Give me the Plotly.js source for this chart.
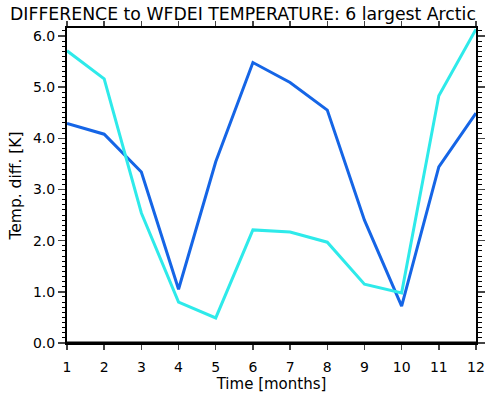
<!DOCTYPE html>
<html><head><meta charset="utf-8">
<script src="https://cdn.plot.ly/plotly-3.0.1.min.js"></script>
<style>html,body{margin:0;padding:0;background:#fff}#c{width:486px;height:399px}</style>
</head><body><div id="c"></div>
<script>
const months = [1,2,3,4,5,6,7,8,9,10,11,12];
const seriesBlue = [4.29,4.08,3.34,1.05,3.54,5.48,5.09,4.55,2.40,0.72,3.44,4.49];
const seriesCyan = [5.71,5.16,2.54,0.80,0.49,2.21,2.17,1.97,1.15,0.98,4.83,6.13];
const yTicks = [0,1,2,3,4,5,6];

const font = "DejaVu Sans, Verdana, sans-serif";
const traces = [
  {x: months, y: seriesBlue, type:'scatter', mode:'lines', line:{color:'#1565e6', width:3}},
  {x: months, y: seriesCyan, type:'scatter', mode:'lines', line:{color:'#2eeaea', width:3}}
];
const layout = {
  width:486, height:399,
  margin:{l:67, r:10, t:28, b:56},
  paper_bgcolor:'#fff', plot_bgcolor:'#fff',
  showlegend:false,
  title:{text:'DIFFERENCE to WFDEI TEMPERATURE: 6 largest Arctic', x:0.5, xanchor:'center', y:0.966, yanchor:'middle',
         font:{family:font, size:17.3, color:'#000'}},
  xaxis:{range:[1,12], tickvals:months, ticktext:months.map(String), ticks:'outside', ticklen:5, tickwidth:1.5,
         ticklabelstandoff:5,
         showline:true, linecolor:'#000', linewidth:2, mirror:'ticks', showgrid:false, zeroline:false,
         tickfont:{family:font, size:14, color:'#000'},
         title:{text:'Time [months]', font:{family:font, size:15, color:'#000'}, standoff:0}},
  yaxis:{range:[0,6.155], tickvals:yTicks, tickformat:'.1f', ticks:'outside', ticklen:7, tickwidth:1.5,
         minor:{dtick:0.1, tick0:0, ticks:'outside', ticklen:3.5, tickwidth:1, tickcolor:'#000', showgrid:false},
         showline:true, linecolor:'#000', linewidth:2, mirror:'ticks', showgrid:false, zeroline:false,
         tickfont:{family:font, size:14, color:'#000'},
         title:{text:'Temp. diff. [K]', font:{family:font, size:15.5, color:'#000'}, standoff:8}},
  shapes:[{type:'line', xref:'paper', yref:'paper', x0:0, x1:1, y0:0, y1:0, line:{color:'#000', width:3}}]
};
Plotly.newPlot('c', traces, layout, {displayModeBar:false, staticPlot:true});
</script></body></html>
